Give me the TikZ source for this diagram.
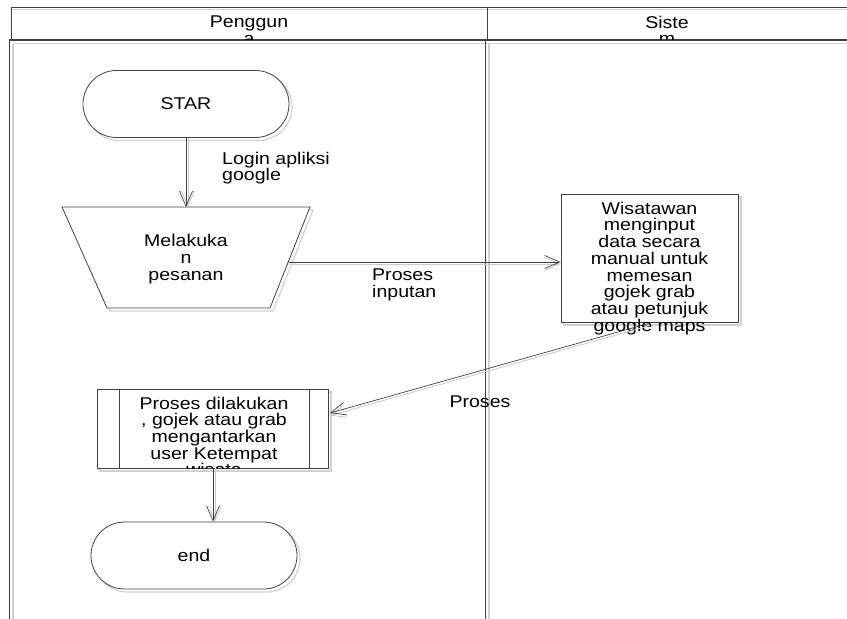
\documentclass[tikz,border=0pt]{standalone}
\usepackage{fontspec}
\setmainfont{Liberation Sans}[FakeStretch=1.15]
\usetikzlibrary{arrows.meta,shapes.misc}
\begin{document}
\begin{tikzpicture}[x=1pt,y=-1pt,
  font=\fontsize{17}{16.7}\selectfont,
  ln/.style={draw=black!75, line width=0.8pt},
  shd/.style={draw=black!18, line width=1.2pt},
  term/.style={rounded rectangle, ln, fill=white, minimum width=206pt, minimum height=67pt, inner sep=0pt},
  termshd/.style={rounded rectangle, shd, minimum width=206pt, minimum height=67pt, inner sep=0pt},
  arr/.style={-{Straight Barb[length=15pt,width=13pt]}, draw=black!75, line width=0.7pt},
  arrshd/.style={-{Straight Barb[length=15pt,width=13pt]}, draw=black!20, line width=0.9pt},
  txt/.style={align=center, inner sep=0pt}]
\useasboundingbox (0,0) rectangle (847,619);
% ---- swimlane frame ----
\draw[shd] (13,44) -- (13,625);
\draw[shd] (489,44) -- (489,625);
\draw[shd] (13,43.5) -- (855,43.5);
\draw[shd] (11,9.5) -- (855,9.5);
\draw[ln] (11,40) -- (11,7) -- (855,7);
\draw[ln, line width=1.1pt] (9,40) -- (855,40);
\draw[ln] (487,7) -- (487,40);
\draw[ln, line width=1pt] (9,40) -- (9,625);
\draw[ln, line width=1pt] (485,40) -- (485,625);
\begin{scope}
  \clip (11,7) rectangle (847,39.5);
  \node[txt] (lane1) at (249,30.4) {Penggun\\a};
  \node[txt] (lane2) at (667,30.4) {Siste\\m};
\end{scope}
% ---- start ----
\node[termshd] (starshd) at (189,107) {};
\node[term] (star) at (186,104) {STAR};
% ---- trapezoid (manual input) ----
\draw[shd] (65,210) -- (313,210) -- (273,311) -- (110,311) -- cycle;
\draw[ln, fill=white] (62,207) -- (310,207) -- (270,308) -- (107,308) -- cycle;
\coordinate (trapT) at (186,207);
\coordinate (trapR) at (288.5,262);
\node[txt] (traptxt) at (186,259) {Melakuka\\n\\pesanan};
% ---- system box ----
\node[draw=black!18, line width=1.2pt, minimum width=177pt, minimum height=128pt, inner sep=0pt] (wisshd) at (652.5,261) {};
\node[ln, fill=white, minimum width=177pt, minimum height=128pt, inner sep=0pt] (wis) at (649.5,258) {};
\node[txt] (wistxt) at (649.5,268.3) {Wisatawan\\menginput\\data secara\\manual untuk\\memesan\\gojek grab\\atau petunjuk\\google maps};
\coordinate (wisS) at (650,323);
% ---- predefined process ----
\node[draw=black!18, line width=1.2pt, minimum width=231pt, minimum height=79pt, inner sep=0pt] (procshd) at (215.5,431.5) {};
\node[ln, fill=white, minimum width=231pt, minimum height=79pt, inner sep=0pt] (proc) at (212.5,428.5) {};
\draw[ln] (119,389) -- (119,468);
\draw[ln] (309,389) -- (309,468);
\begin{scope}
  \clip (97,389) rectangle (328,468);
  \node[txt] (proctxt) at (214,436.5) {Proses dilakukan\\, gojek atau grab\\mengantarkan\\user Ketempat\\wisata};
\end{scope}
\coordinate (procE) at (330,413);
\coordinate (procS) at (213,468);
% ---- end ----
\node[termshd] (finshd) at (197,558.5) {};
\node[term] (fin) at (194,555.5) {end};
% ---- connectors ----
\draw[arrshd] ([xshift=2pt]star.south) -- ([xshift=2pt]star.south |- trapT);
\draw[arr] (star.south) -- (star.south |- trapT);
\draw[arrshd] ([yshift=-2pt]trapR) -- ([yshift=-2pt]trapR -| wis.west);
\draw[arr] (trapR) -- (trapR -| wis.west);
\draw[arrshd] ([yshift=-2.5pt]wisS) -- ([yshift=-2.5pt]procE);
\draw[arr] (wisS) -- (procE);
\draw[arrshd] ([xshift=2pt]procS) -- ([xshift=2pt]procS |- fin.north);
\draw[arr] (procS) -- (procS |- fin.north);
% ---- labels ----
\node[align=left, anchor=west, inner sep=0pt] (lbl1) at (222,168) {Login apliksi\\google};
\node[align=left, anchor=west, inner sep=0pt] (lbl2) at (372,285) {Proses\\inputan};
\node[inner sep=0pt] (lbl3) at (480,402) {Proses};
\end{tikzpicture}
\end{document}
